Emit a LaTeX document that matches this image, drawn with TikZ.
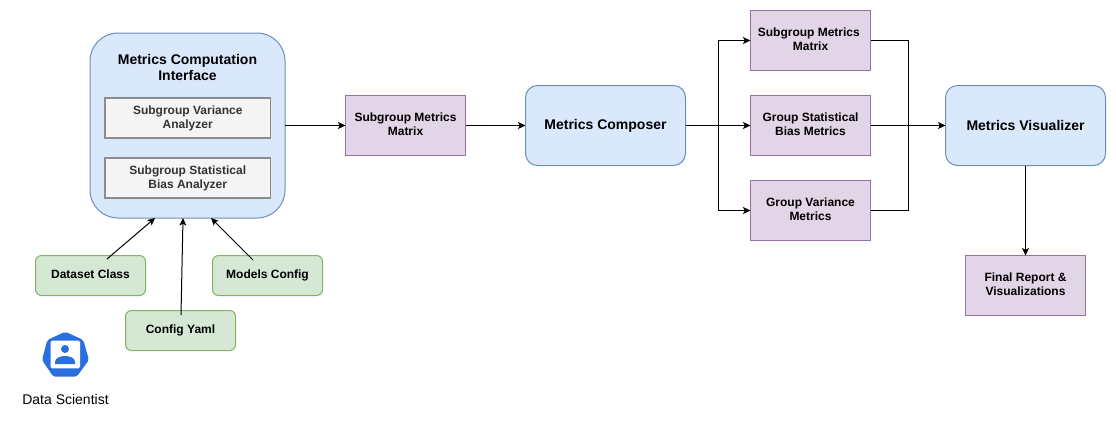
\documentclass[tikz,border=0pt]{standalone}
\usepackage{fontspec}
\setmainfont{Liberation Sans}
\usetikzlibrary{arrows.meta}

\definecolor{blueFill}{HTML}{DAE8FC}
\definecolor{blueLine}{HTML}{6C8EBF}
\definecolor{greenFill}{HTML}{D5E8D4}
\definecolor{greenLine}{HTML}{82B366}
\definecolor{purpleFill}{HTML}{E1D5E7}
\definecolor{purpleLine}{HTML}{9673A6}
\definecolor{grayFill}{HTML}{F5F5F5}
\definecolor{iconBlue}{HTML}{2A6FE0}

\begin{document}
\begin{tikzpicture}
[x=0.75pt,y=-0.75pt,line width=0.75pt,%
  every node/.style={inner sep=0pt,outer sep=0pt,align=center},%
  small/.style={font=\fontsize{9}{10.5}\selectfont\bfseries,text depth=1.5pt},%
  big/.style={font=\fontsize{10.5}{12.2}\selectfont\bfseries},%
  blueBox/.style={draw=blueLine,fill=blueFill,big,minimum width=120pt,minimum height=60pt,rounded corners=9pt},%
  purpleBox/.style={draw=purpleLine,fill=purpleFill,small,minimum width=90pt,minimum height=45pt},%
  greenBox/.style={draw=greenLine,fill=greenFill,small,minimum width=82.5pt,minimum height=30pt,rounded corners=4.5pt},%
  grayBox/.style={draw=black!45,line width=1pt,fill=grayFill,text=black!80,small,minimum width=124.125pt,minimum height=30pt},%
  link/.style={-{Stealth[length=5.6pt,width=5.2pt,inset=1.3pt]}}]
\useasboundingbox (0,0) rectangle (1116,426);
%%
\node[blueBox,minimum width=146.25pt,minimum height=138.75pt,rounded corners=21pt] (interface) at (187.5,125.5) {};
\node[big] (interfaceTitle) at (187.5,67.5) {Metrics Computation\\Interface};
\node[grayBox] (varAnalyzer) at (187.75,118) {Subgroup Variance\\Analyzer};
\node[grayBox] (biasAnalyzer) at (187.75,178) {Subgroup Statistical\\Bias Analyzer};
%%
\node[greenBox] (dataset) at (90.5,275.5) {Dataset Class};
\node[greenBox] (models) at (267.5,275.5) {Models Config};
\node[greenBox] (config) at (180.5,330.5) {Config Yaml};
%%
\node[purpleBox] (matrixA) at (405.5,125.5) {Subgroup Metrics\\Matrix};
\node[blueBox] (composer) at (605.5,125.5) {Metrics Composer};
\node[purpleBox] (matrixB) at (810.5,40.5) {Subgroup Metrics\kern2.5pt\\Matrix};
\node[purpleBox] (groupBias) at (810.5,125.5) {Group Statistical\\Bias Metrics};
\node[purpleBox] (groupVar) at (810.5,210.5) {Group Variance\\Metrics};
\node[blueBox] (visualizer) at (1025.5,125.5) {Metrics Visualizer};
\node[purpleBox] (report) at (1025.5,285.5) {Final Report \&\\Visualizations};
%%
\fill[iconBlue,rounded corners=1.5pt] (65.3,331.7) -- (83.3,340) -- (89,360) -- (76.7,376.7) -- (53.3,376.7) -- (42,360) -- (47.3,340) -- cycle;
\fill[white,rounded corners=1pt] (50.7,340.7) rectangle (80,368.3);
\fill[iconBlue] (65,349) circle (3pt);
\fill[iconBlue] (55,364) -- (55,362) .. controls (55,358) and (60,356) .. (65,356)
  .. controls (70,356) and (75,358) .. (75,362) -- (75,364) -- cycle;
\node[font=\fontsize{10.5}{12.2}\selectfont] (scientist) at (65.5,399) {Data Scientist};
%%
\coordinate (datasetOut) at (107,259);
\coordinate (datasetIn) at (155,218);
\coordinate (configOut) at (181,315);
\coordinate (configIn) at (183,218);
\coordinate (modelsOut) at (253,260);
\coordinate (modelsIn) at (211,218);
\coordinate (split) at (718,125.5);
\coordinate (merge) at (908,125.5);
%%
\path
\foreach \startNode/\endNode in {datasetOut/datasetIn, configOut/configIn, modelsOut/modelsIn,
  interface/matrixA, matrixA/composer, composer/groupBias, groupBias/visualizer}
{
  (\startNode) edge[link] (\endNode)
};
\draw[link] (visualizer.south) -- (report.north);
\draw[link] (split) |- (matrixB.west);
\draw[link] (split) |- (groupVar.west);
\draw (matrixB.east) -| (merge);
\draw (groupVar.east) -| (merge);
\end{tikzpicture}
\end{document}
